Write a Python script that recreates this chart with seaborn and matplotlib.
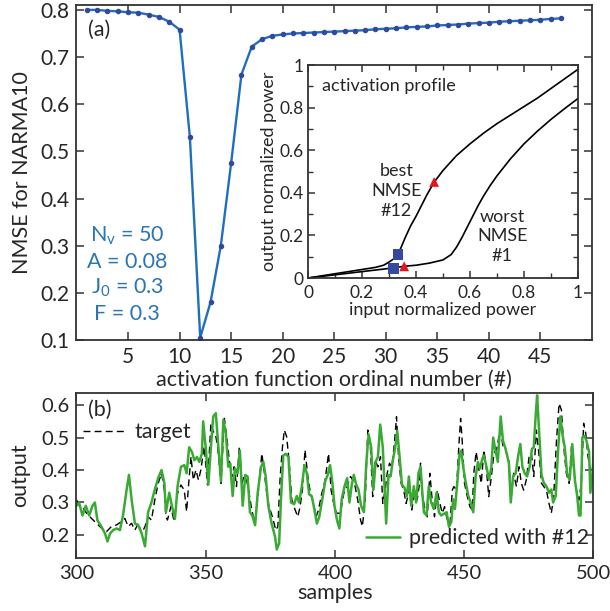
import matplotlib
matplotlib.use('Agg')
import matplotlib.pyplot as plt
import seaborn as sns
import pandas as pd
import numpy as np
from matplotlib.ticker import MultipleLocator
from matplotlib.lines import Line2D

sns.set_style('ticks')
plt.rcParams['font.family'] = ['Lato', 'DejaVu Sans']
plt.rcParams['mathtext.fontset'] = 'custom'
plt.rcParams['mathtext.rm'] = 'Lato'
plt.rcParams['mathtext.it'] = 'Lato:italic'

# (a) NMSE vs activation function number
func_no = list(range(1, 48))
nmse = [0.800, 0.800, 0.798, 0.797, 0.795, 0.794, 0.790, 0.785, 0.775, 0.758,
        0.530, 0.105, 0.180, 0.300, 0.475, 0.663, 0.722, 0.738, 0.745, 0.748,
        0.750, 0.751, 0.752, 0.753, 0.754, 0.755, 0.756, 0.757, 0.759, 0.760,
        0.761, 0.763, 0.764, 0.765, 0.767, 0.768, 0.769, 0.771, 0.772, 0.773,
        0.775, 0.776, 0.777, 0.778, 0.779, 0.781, 0.782]

# inset: activation profiles
best_in = [0, 0.10, 0.20, 0.25, 0.28, 0.30, 0.32, 0.333, 0.34, 0.36, 0.38, 0.40, 0.42, 0.44,
           0.467, 0.50, 0.55, 0.60, 0.65, 0.70, 0.75, 0.80, 0.85, 0.90, 0.95, 1.0]
best_out = [0, 0.02, 0.04, 0.05, 0.06, 0.075, 0.092, 0.111, 0.13, 0.19, 0.245, 0.29, 0.34, 0.39,
            0.45, 0.505, 0.575, 0.63, 0.68, 0.725, 0.765, 0.805, 0.845, 0.89, 0.935, 0.98]
worst_in = [0, 0.10, 0.20, 0.30, 0.356, 0.40, 0.45, 0.50, 0.53, 0.55, 0.57, 0.59, 0.61, 0.63,
            0.65, 0.675, 0.70, 0.75, 0.80, 0.85, 0.90, 0.95, 1.0]
worst_out = [0, 0.015, 0.03, 0.045, 0.055, 0.06, 0.07, 0.085, 0.11, 0.145, 0.19, 0.24, 0.29, 0.34,
             0.385, 0.435, 0.48, 0.56, 0.63, 0.69, 0.745, 0.795, 0.843]
sq_x, sq_y = [0.333, 0.317], [0.111, 0.044]
tri_x, tri_y = [0.467, 0.356], [0.451, 0.055]

# (b) time series
pred_t = [300, 301, 302.3, 303.6, 304.9, 306.2, 307.1, 308.1, 309.7, 311, 312, 313, 314.2, 315.5,
          316.8, 318, 319.4, 320.3, 321.3, 322.6, 323.9, 325.2, 326.5, 327.7, 329, 330.3, 331.6,
          332.9, 334, 334.6, 335.9, 336.9, 338.1, 339.1, 340.4, 341.7, 342.6, 343.6, 344.7, 345.6,
          346.6, 347.5, 348.5, 349, 350.1, 351, 352, 352.9, 353.9, 355, 355.9, 356.8, 357.8, 358.7,
          359.5, 360.4, 361.3, 362.3, 363.2, 364.3, 365.3, 366.2, 367.1, 368, 369.1, 370.1, 371.4,
          372.3, 373.2, 374.2, 375.5, 376.8, 377.5, 378.4, 379.1, 380, 381, 382, 383, 384.2, 385.2,
          386.1, 387.1, 388.2, 389.1, 390, 391, 392, 393, 393.9, 395.1, 396.2, 397.2, 398.1, 399,
          399.8, 400.8, 401.7, 402.6, 403.7, 404.7, 405.6, 406.5, 407.3, 408.2, 409.1, 410.1, 411.2,
          412.1, 413, 414, 414.9, 415.7, 416.6, 417.5, 418.5, 419.2, 419.8, 420.7, 421.5, 422.4,
          423.3, 424.1, 425, 425.9, 426.9, 427.8, 428.6, 429.5, 430.5, 431.4, 432.3, 433.1, 433.7,
          434.4, 435.4, 436.3, 437.2, 438.3, 439.3, 440.2, 441.1, 442.1, 443.2, 444.1, 445, 445.7,
          446.4, 447.3, 448.2, 448.8, 449.6, 450.5, 451.6, 452.5, 453.5, 454.4, 455.3, 456.1, 457,
          457.6, 458.6, 459.6, 460.5, 461.2, 462.1, 463, 464.1, 465, 466, 467.3, 468, 468.9, 469.9,
          470.8, 471.7, 472.5, 473.4, 474.3, 475.3, 476.2, 476.9, 477.7, 478.2, 479, 479.9, 480.8,
          481.8, 482.8, 483.7, 484.4, 485.4, 486.3, 487.2, 488, 488.9, 489.8, 490.8, 491.8, 492.8,
          493.7, 494.4, 495, 495.7, 496.5, 497.3, 498.3, 498.8, 499.6, 500]
pred_v = [0.29, 0.30, 0.26, 0.29, 0.26, 0.29, 0.30, 0.245, 0.225, 0.205, 0.18, 0.205, 0.215, 0.22,
          0.215, 0.26, 0.34, 0.385, 0.31, 0.235, 0.23, 0.205, 0.165, 0.27, 0.30, 0.34, 0.375,
          0.40, 0.36, 0.27, 0.33, 0.29, 0.25, 0.35, 0.41, 0.415, 0.39, 0.47, 0.455, 0.43,
          0.44, 0.425, 0.45, 0.55, 0.46, 0.355, 0.47, 0.565, 0.575, 0.46, 0.365, 0.555, 0.51, 0.41,
          0.42, 0.32, 0.405, 0.39, 0.46, 0.29, 0.385, 0.38, 0.27, 0.26, 0.23, 0.33, 0.41,
          0.425, 0.38, 0.29, 0.235, 0.195, 0.155, 0.175, 0.31, 0.445, 0.45, 0.44, 0.30, 0.295, 0.32,
          0.30, 0.345, 0.415, 0.39, 0.325, 0.32, 0.28, 0.235, 0.255, 0.31, 0.365, 0.385, 0.415, 0.36,
          0.29, 0.245, 0.22, 0.31, 0.35, 0.375, 0.30, 0.355, 0.385, 0.355, 0.34, 0.29, 0.27,
          0.42, 0.51, 0.47, 0.34, 0.425, 0.44, 0.54, 0.47, 0.34, 0.235, 0.385, 0.38, 0.43,
          0.47, 0.52, 0.44, 0.355, 0.345, 0.32, 0.38, 0.29, 0.35, 0.30, 0.39, 0.41, 0.34,
          0.27, 0.26, 0.35, 0.30, 0.28, 0.33, 0.27, 0.26, 0.265, 0.27, 0.225, 0.24, 0.31,
          0.28, 0.36, 0.45, 0.46, 0.41, 0.365, 0.32, 0.30, 0.27, 0.38, 0.425, 0.405, 0.435,
          0.445, 0.41, 0.37, 0.41, 0.50, 0.46, 0.425, 0.565, 0.49, 0.465, 0.42, 0.30, 0.38, 0.39,
          0.44, 0.48, 0.41, 0.39, 0.38, 0.41, 0.465, 0.47, 0.575, 0.63, 0.515, 0.385, 0.36,
          0.35, 0.33, 0.34, 0.30, 0.32, 0.46, 0.565, 0.51, 0.47, 0.39, 0.37, 0.48, 0.37,
          0.32, 0.26, 0.26, 0.50, 0.505, 0.49, 0.455, 0.33, 0.39, 0.44]

target_t = [300, 301.3, 302.6, 303.9, 305.8, 307.7, 309.7, 311.6, 313.5, 315.5, 317.4, 318.7, 320,
            321.3, 322.6, 323.9, 325.2, 326.5, 327.7, 329, 330.3, 331.6, 332.9, 334, 334.6, 335.2,
            336.5, 337.8, 339.1, 340.4, 341.7, 342.6, 343.4, 344.3, 345.2, 346.2, 347.2, 348.1,
            349.4, 350.7, 352, 352.9, 353.7, 354.6, 355.9, 357.2, 358.1, 359.1, 360.1, 361, 361.9,
            363, 364, 364.8, 365.8, 366.6, 367.5, 368.4, 369.3, 370.4, 371.7, 372.7, 373.6, 374.5,
            375.8, 377.1, 377.9, 378.8, 379.7, 380.4, 381.3, 382.2, 383.3, 384.6, 385.6, 386.5,
            387.4, 388.4, 389.5, 390.5, 391.7, 392.7, 393.6, 394.9, 396.2, 397.5, 398.5, 399.5,
            400.6, 402.1, 403.4, 404.7, 406, 406.9, 407.8, 408.8, 409.9, 410.6, 411.7, 412.7,
            413.7, 414.6, 415.5, 416.6, 417.6, 418.5, 419.4, 420.2, 421.1, 422, 423, 423.8, 424.6,
            425.6, 426.6, 427.5, 428.8, 429.7, 430.8, 431.8, 432.7, 433.1, 433.7, 434.6, 435.7,
            436.7, 437.6, 438.5, 439.6, 440.6, 441.5, 442.4, 443.4, 444.5, 445.4, 446, 447, 447.9,
            448.6, 449.2, 450.1, 451.2, 452.2, 453.1, 453.7, 454.6, 455.7, 456.6, 457.6, 458.5,
            459.5, 460.5, 461.5, 462.5, 463.4, 464.1, 465, 466, 467.2, 468.2, 469.1, 470.2, 471.2,
            472.1, 473, 474, 475.1, 476, 476.9, 477.9, 479, 479.9, 480.8, 481.8, 482.8, 483.7,
            484.6, 485.7, 486.7, 487.6, 488.5, 489.5, 490.6, 491.5, 492.4, 493.4, 494.4, 495.3,
            496.2, 497, 497.9, 498.8, 499.6, 500]
target_v = [0.308, 0.287, 0.282, 0.267, 0.251, 0.236, 0.221, 0.21, 0.226, 0.231, 0.241, 0.251, 0.226,
            0.236, 0.215, 0.236, 0.205, 0.226, 0.256, 0.246, 0.308, 0.359, 0.39, 0.338, 0.256, 0.246,
            0.287, 0.241, 0.328, 0.354, 0.338, 0.272, 0.359, 0.441, 0.369, 0.40, 0.369, 0.40,
            0.472, 0.354, 0.544, 0.518, 0.513, 0.472, 0.359, 0.559, 0.503, 0.431, 0.38, 0.41, 0.349,
            0.472, 0.359, 0.38, 0.369, 0.338, 0.292, 0.256, 0.246, 0.338, 0.451, 0.39, 0.328, 0.287,
            0.256, 0.215, 0.226, 0.38, 0.472, 0.523, 0.503, 0.431, 0.308, 0.277, 0.256, 0.287,
            0.338, 0.462, 0.38, 0.328, 0.297, 0.256, 0.277, 0.328, 0.369, 0.451, 0.338, 0.297,
            0.267, 0.267, 0.328, 0.349, 0.38, 0.369, 0.349, 0.308, 0.246, 0.226, 0.308, 0.523,
            0.472, 0.318, 0.431, 0.41, 0.441, 0.297, 0.338, 0.39, 0.421, 0.41, 0.482, 0.564, 0.441,
            0.359, 0.338, 0.297, 0.338, 0.277, 0.328, 0.308, 0.359, 0.421, 0.328, 0.287, 0.256,
            0.39, 0.308, 0.256, 0.338, 0.297, 0.267, 0.287, 0.246, 0.236, 0.338, 0.349, 0.338, 0.472,
            0.559, 0.492, 0.359, 0.318, 0.287, 0.277, 0.39, 0.456, 0.40, 0.359, 0.462, 0.41,
            0.318, 0.38, 0.451, 0.462, 0.503, 0.523, 0.472, 0.462, 0.431, 0.318, 0.39, 0.349, 0.41,
            0.359, 0.338, 0.369, 0.441, 0.451, 0.38, 0.523, 0.441, 0.359, 0.349, 0.338, 0.297, 0.267,
            0.318, 0.492, 0.605, 0.585, 0.472, 0.39, 0.359, 0.472, 0.40, 0.338, 0.308, 0.359,
            0.544, 0.513, 0.441, 0.40, 0.41, 0.41]

blue = '#1f6fbf'
dot = '#34479b'
green = '#3aaa35'
spine_c = '#333333'
fs = 15.5      # main text size
fs_in = 13     # inset text size

fig = plt.figure(figsize=(6.1, 6.11), dpi=100)
ax1 = fig.add_axes([0.1254, 0.4435, 0.845, 0.548])
ax2 = fig.add_axes([0.1254, 0.0867, 0.8475, 0.27])
axin = fig.add_axes([0.505, 0.545, 0.4426, 0.3486])

def style(ax, size):
    for s in ax.spines.values():
        s.set_color(spine_c)
        s.set_linewidth(1.3)
    ax.tick_params(direction='in', top=True, right=True, labelsize=size,
                   width=1.1, length=6, color=spine_c, pad=5)
    ax.tick_params(which='minor', direction='in', top=True, right=True,
                   width=1.0, length=3.5, color=spine_c)

# ---- (a)
df1 = pd.DataFrame({'n': func_no, 'nmse': nmse})
sns.lineplot(data=df1, x='n', y='nmse', ax=ax1, color=blue, linewidth=1.7,
             marker='o', markersize=3.2, markerfacecolor=dot, markeredgecolor=dot)
ax1.set_xlim(0, 50)
ax1.set_ylim(0.1, 0.81)
ax1.set_xticks([5, 10, 15, 20, 25, 30, 35, 40, 45])
ax1.set_yticks([0.1, 0.2, 0.3, 0.4, 0.5, 0.6, 0.7, 0.8])
style(ax1, fs - 0.5)
ax1.set_xlabel('activation function ordinal number (#)', fontsize=fs, labelpad=2)
ax1.set_ylabel('NMSE for NARMA10', fontsize=fs, labelpad=6)
ax1.text(0.022, 0.925, '(a)', transform=ax1.transAxes, fontsize=fs, va='center')
for txt, yy in zip([r'N$_\mathrm{v}$ = 50', 'A = 0.08', r'J$_0$ = 0.3', 'F = 0.3'],
                   [0.32, 0.266, 0.21, 0.156]):
    ax1.text(4.9, yy, txt, color='#2a74b8', fontsize=fs, ha='center', va='center')

# ---- inset
dfb = pd.DataFrame({'x': best_in, 'y': best_out})
dfw = pd.DataFrame({'x': worst_in, 'y': worst_out})
sns.lineplot(data=dfb, x='x', y='y', ax=axin, color='black', linewidth=1.2, sort=False)
sns.lineplot(data=dfw, x='x', y='y', ax=axin, color='black', linewidth=1.2, sort=False)
sns.scatterplot(x=sq_x, y=sq_y, ax=axin, marker='s', s=55, color='#334a9e', edgecolor='none', zorder=5)
sns.scatterplot(x=tri_x, y=tri_y, ax=axin, marker='^', s=50, color='#e8141b', edgecolor='none', zorder=5)
axin.set_xlim(0, 1)
axin.set_ylim(0, 1)
axin.set_xticks([0, 0.2, 0.4, 0.6, 0.8, 1])
axin.set_xticklabels(['0', '0.2', '0.4', '0.6', '0.8', '1'])
axin.set_yticks([0, 0.2, 0.4, 0.6, 0.8, 1])
axin.set_yticklabels(['0', '0.2', '0.4', '0.6', '0.8', '1'])
axin.xaxis.set_minor_locator(MultipleLocator(0.1))
axin.yaxis.set_minor_locator(MultipleLocator(0.1))
style(axin, fs_in - 0.5)
axin.tick_params(length=5, pad=3)
axin.tick_params(axis='x', pad=5)
axin.set_xlabel('input normalized power', fontsize=fs_in, labelpad=1)
axin.set_ylabel('output normalized power', fontsize=fs_in, labelpad=2)
axin.text(0.05, 0.9, 'activation profile', transform=axin.transAxes, fontsize=fs_in, va='center')
axin.text(0.327, 0.41, 'best\nNMSE\n#12', fontsize=fs_in, ha='center', va='center', linespacing=1.3)
axin.text(0.72, 0.195, 'worst\nNMSE\n#1', fontsize=fs_in, ha='center', va='center', linespacing=1.3)

# ---- (b)
dft = pd.DataFrame({'t': target_t, 'v': target_v})
dfp = pd.DataFrame({'t': pred_t, 'v': pred_v})
sns.lineplot(data=dft, x='t', y='v', ax=ax2, color='black', linewidth=1.0, linestyle=(0, (5, 3)), sort=False)
sns.lineplot(data=dfp, x='t', y='v', ax=ax2, color=green, linewidth=1.8, sort=False)
ax2.set_xlim(300, 500)
ax2.set_ylim(0.129, 0.637)
ax2.set_xticks([300, 350, 400, 450, 500])
ax2.set_yticks([0.2, 0.3, 0.4, 0.5, 0.6])
style(ax2, fs - 1)
ax2.set_xlabel('samples', fontsize=fs, labelpad=1)
ax2.set_ylabel('output', fontsize=fs, labelpad=8)
ax2.text(0.023, 0.9, '(b)', transform=ax2.transAxes, fontsize=fs, va='center')
leg1 = ax2.legend(handles=[Line2D([], [], color='black', lw=1.0, ls=(0, (5, 3)))], labels=['target'],
                  loc='upper left', bbox_to_anchor=(-0.012, 0.9), frameon=False, fontsize=fs,
                  handlelength=2.0, handletextpad=0.4, borderaxespad=0.2)
ax2.add_artist(leg1)
ax2.legend(handles=[Line2D([], [], color=green, lw=1.8)], labels=['predicted with #12'],
           loc='lower right', bbox_to_anchor=(1.01, 0.0), frameon=False, fontsize=fs,
           handlelength=1.6, handletextpad=0.4, borderaxespad=0.05)

fig.savefig('out.png', dpi=100)
